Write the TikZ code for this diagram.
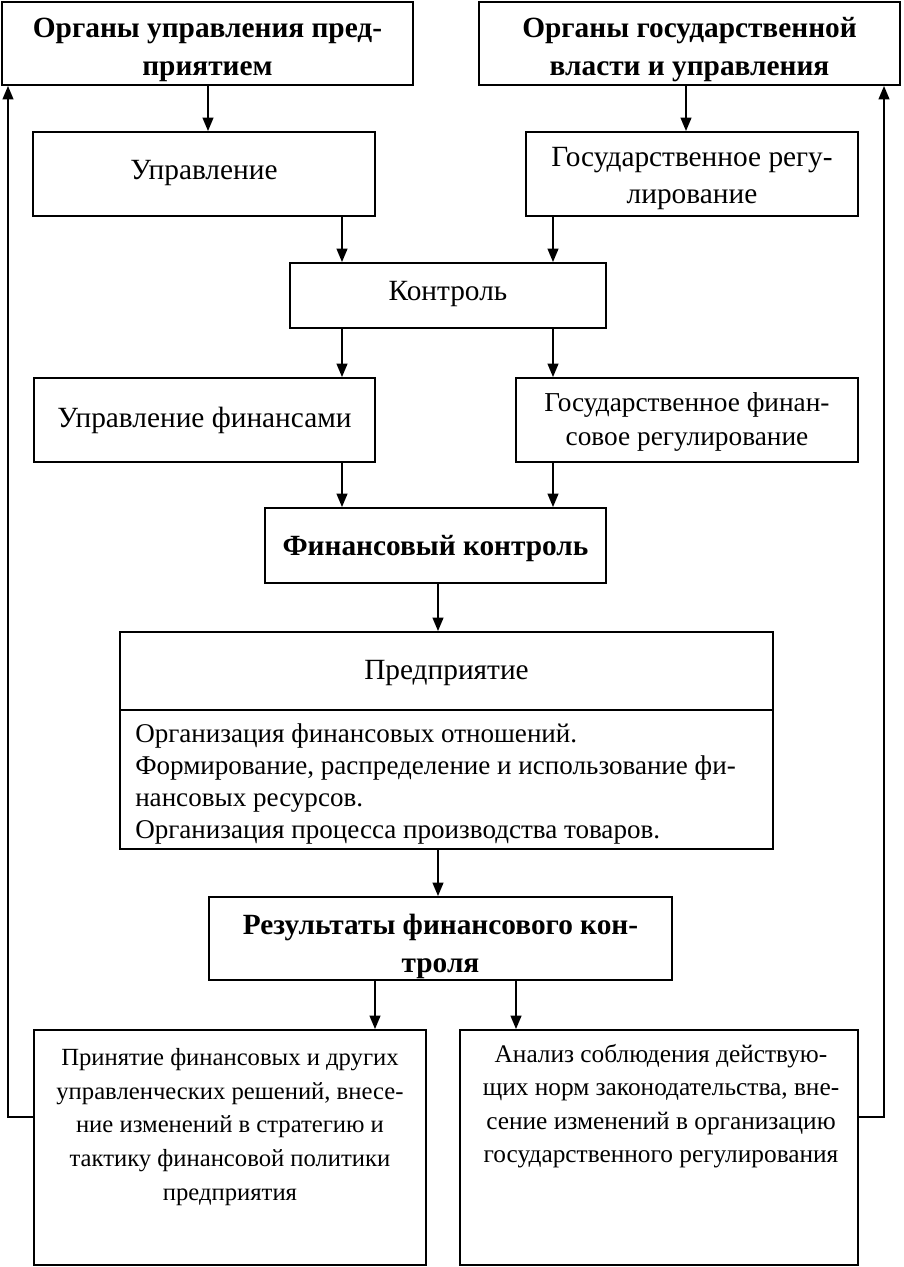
\documentclass[tikz,border=0pt]{standalone}
\usepackage{fontspec}
\setmainfont{Liberation Serif}
\usetikzlibrary{arrows.meta,fit,calc}
\begin{document}
\begin{tikzpicture}[x=0.75pt,y=-0.75pt,
  box/.style={draw, line width=1.4pt, inner sep=0pt},
  txt/.style={align=center, inner sep=0pt, font=\fontsize{22}{27.75}\selectfont},
  btxt/.style={align=center, inner sep=0pt, font=\fontsize{22}{28.5}\selectfont\bfseries},
  arr/.style={line width=1.4pt, -{Triangle[width=8pt,length=10pt]}},
  link/.style={line width=1.4pt}]
\useasboundingbox (0,0) rectangle (903,1267);
% boxes
\node[box, fit={(2,2) (413,85)}] (b1) {};
\node[btxt] (t1) at (207.5,50) {Органы управления пред-\\приятием};
\node[box, fit={(479,2) (900,85)}] (b2) {};
\node[btxt] (t2) at (689.5,50) {Органы государственной\\власти и управления};
\node[box, fit={(33,132) (375,216)}] (upr) {};
\node[txt] (tupr) at (204,173) {Управление};
\node[box, fit={(526,132) (858,216)}] (gr) {};
\node[txt] (tgr) at (692,179) {Государственное регу-\\лирование};
\node[box, fit={(290,263) (606,328)}] (kon) {};
\node[txt] (tkon) at (448,294) {Контроль};
\node[box, fit={(34,378) (375,462)}] (uf) {};
\node[txt] (tuf) at (204.5,420) {Управление финансами};
\node[box, fit={(516,378) (858,462)}] (gfr) {};
\node[txt, font=\fontsize{20.5}{25.5}\selectfont] (tgfr) at (687,422) {Государственное финан-\\совое регулирование};
\node[box, fit={(265,508) (606,583)}] (fk) {};
\node[btxt] (tfk) at (435.5,549) {Финансовый контроль};
\node[box, fit={(120,632) (773,849)}] (pr) {};
\draw[link] (pr.west |- 0,710) coordinate (dl) -- (pr.east |- dl) coordinate (dr);
\node[txt] (tpr) at (446.5,673) {Предприятие};
\node[txt, align=left, anchor=west, font=\fontsize{20.3}{23.8}\selectfont] (tprb) at (135,784) {Организация финансовых отношений.\\Формирование, распределение и использование фи-\\нансовых ресурсов.\\Организация процесса производства товаров.};
\node[box, fit={(209,897) (672,980)}] (res) {};
\node[btxt] (tres) at (440.5,946) {Результаты финансового кон-\\троля};
\node[box, fit={(34,1030) (426,1265)}] (lb) {};
\node[txt, font=\fontsize{18.5}{25.3}\selectfont] (tlb) at (230,1127) {Принятие финансовых и других\\управленческих решений, внесе-\\ние изменений в стратегию и\\тактику финансовой политики\\предприятия};
\node[box, fit={(460,1030) (858,1265)}] (rb) {};
\node[txt, font=\fontsize{19}{25}\selectfont] (trb) at (661,1106) {Анализ соблюдения действую-\\щих норм законодательства, вне-\\сение изменений в организацию\\государственного регулирования};
% arrow x positions
\coordinate (x1) at (208,0);
\coordinate (x2) at (686,0);
\coordinate (x3) at (342,0);
\coordinate (x4) at (553,0);
\coordinate (x5) at (438,0);
\coordinate (x6) at (375,0);
\coordinate (x7) at (516,0);
\coordinate (yf) at (0,1117);
\coordinate (cl) at (8,1117);
\coordinate (cr) at (884,1117);
% arrows
\draw[arr] (b1.south -| x1) -- (upr.north -| x1);
\draw[arr] (b2.south -| x2) -- (gr.north -| x2);
\draw[arr] (upr.south -| x3) -- (kon.north -| x3);
\draw[arr] (gr.south -| x4) -- (kon.north -| x4);
\draw[arr] (kon.south -| x3) -- (uf.north -| x3);
\draw[arr] (kon.south -| x4) -- (gfr.north -| x4);
\draw[arr] (uf.south -| x3) -- (fk.north -| x3);
\draw[arr] (gfr.south -| x4) -- (fk.north -| x4);
\draw[arr] (fk.south -| x5) -- (pr.north -| x5);
\draw[arr] (pr.south -| x5) -- (res.north -| x5);
\draw[arr] (res.south -| x6) -- (lb.north -| x6);
\draw[arr] (res.south -| x7) -- (rb.north -| x7);
\draw[arr] (lb.west |- yf) -- (cl) -- (b1.south -| cl);
\draw[arr] (rb.east |- yf) -- (cr) -- (b2.south -| cr);
\end{tikzpicture}
\end{document}
